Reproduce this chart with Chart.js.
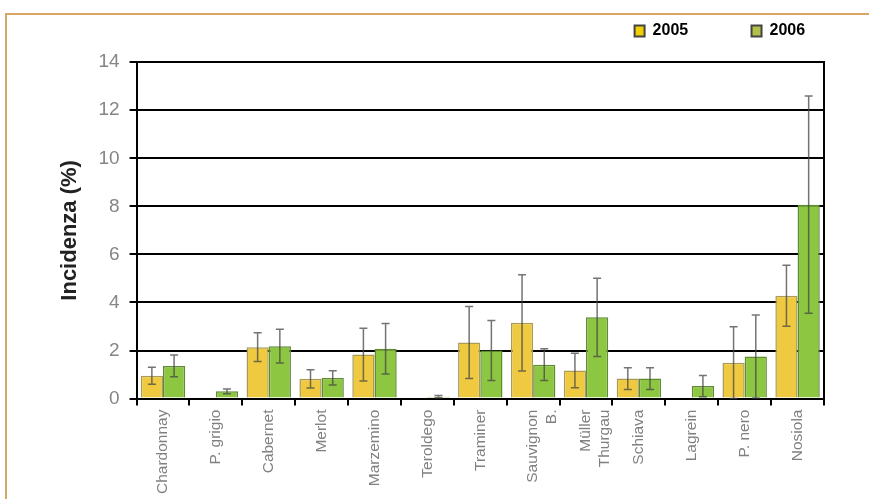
<!DOCTYPE html>
<html>
<head>
<meta charset="utf-8">
<script src="https://cdn.jsdelivr.net/npm/chart.js@4/dist/chart.umd.min.js"></script>
<style>
    html, body { margin: 0; padding: 0; background: #fff; }
    #wrap { position: relative; width: 869px; height: 499px; overflow: hidden; }
    #frame { position: absolute; left: 5px; top: 13px; width: 900px; height: 520px;
             border-left: 2px solid #d8a468; border-top: 2px solid #d8a468; }
    #chart { position: absolute; left: 0; top: 0; }
</style>
</head>
<body>
<div id="wrap">
    <div id="frame"></div>
    <canvas id="chart" width="869" height="499"></canvas>
</div>
<script>
// cultivar names on the x axis
const categories = ['Chardonnay', 'P. grigio', 'Cabernet', 'Merlot', 'Marzemino', 'Teroldego', 'Traminer',
    ['Sauvignon', 'B.'], ['Müller', 'Thurgau'], 'Schiava', 'Lagrein', 'P. nero', 'Nosiola'];

// incidence (%) and error (+/-) per year
const inc2005 = [0.95, 0.05, 2.14, 0.82, 1.83, 0, 2.33, 3.15, 1.17, 0.83, 0, 1.49, 4.28];
const err2005 = [0.35, 0, 0.6, 0.38, 1.1, 0, 1.5, 2.0, 0.72, 0.45, 0, 1.5, 1.27];
const inc2006 = [1.36, 0.3, 2.18, 0.86, 2.07, 0.08, 2.0, 1.41, 3.38, 0.83, 0.52, 1.75, 8.07];
const err2006 = [0.45, 0.1, 0.7, 0.3, 1.05, 0.05, 1.25, 0.66, 1.63, 0.45, 0.44, 1.73, 4.52];

const yTicks = [0, 2, 4, 6, 8, 10, 12, 14];

const COLORS = {
    y2005: '#efca40', y2005Border: '#a99a5a', leg2005: '#f2d000',
    y2006: '#8dc640', y2006Border: '#5f8c32', leg2006: '#b2bf48'
};

// draws the +/- error whiskers on top of each bar
const errorBars = {
    id: 'errorBars',
    afterDatasetsDraw(chart) {
        const ctx = chart.ctx;
        const y = chart.scales.y;
        chart.data.datasets.forEach((ds, i) => {
            const meta = chart.getDatasetMeta(i);
            meta.data.forEach((bar, j) => {
                const v = ds.data[j];
                const e = ds.errors[j];
                if (!e) return;
                const top = y.getPixelForValue(v + e);
                const bot = y.getPixelForValue(Math.max(v - e, 0));
                const cap = 4;
                ctx.save();
                ctx.strokeStyle = 'rgba(70,70,70,0.75)';
                ctx.lineWidth = 1.5;
                ctx.beginPath();
                ctx.moveTo(bar.x, top);
                ctx.lineTo(bar.x, bot);
                ctx.moveTo(bar.x - cap, top);
                ctx.lineTo(bar.x + cap, top);
                ctx.moveTo(bar.x - cap, bot);
                ctx.lineTo(bar.x + cap, bot);
                ctx.stroke();
                ctx.restore();
            });
        });
    }
};

const legendFill = [COLORS.leg2005, COLORS.leg2006];

new Chart(document.getElementById('chart'), {
    type: 'bar',
    data: {
        labels: categories,
        datasets: [
            {
                label: '2005',
                data: inc2005,
                errors: err2005,
                backgroundColor: COLORS.y2005,
                borderColor: COLORS.y2005Border,
                borderWidth: 1.5
            },
            {
                label: '2006',
                data: inc2006,
                errors: err2006,
                backgroundColor: COLORS.y2006,
                borderColor: COLORS.y2006Border,
                borderWidth: 1.5
            }
        ]
    },
    options: {
        responsive: false,
        animation: false,
        layout: { padding: { left: 57, right: 45, top: 13, bottom: 1 } },
        datasets: { bar: { categoryPercentage: 0.84, barPercentage: 1 } },
        plugins: {
            tooltip: { enabled: false },
            // empty spacer between legend and plot
            subtitle: {
                display: true,
                text: '',
                weight: 500,
                font: { size: 1 },
                padding: { top: 0, bottom: 12 }
            },
            legend: {
                position: 'top',
                align: 'end',
                labels: {
                    boxWidth: 10,
                    boxHeight: 11,
                    padding: 10,
                    color: '#111',
                    font: { family: 'Liberation Sans', size: 16, weight: 'bold' },
                    generateLabels(chart) {
                        return chart.data.datasets.map((ds, i) => ({
                            text: i === 0 ? ds.label + '            ' : ds.label + '  ',
                            fillStyle: legendFill[i],
                            strokeStyle: '#444',
                            lineWidth: 2,
                            datasetIndex: i
                        }));
                    }
                }
            }
        },
        scales: {
            x: {
                offset: true,
                grid: { drawOnChartArea: false, drawTicks: true, tickLength: 7, color: '#000', lineWidth: 2, offset: true },
                border: { color: '#000', width: 2 },
                ticks: {
                    maxRotation: 90, minRotation: 90, autoSkip: false, padding: 4,
                    color: '#808080',
                    font: { family: 'Liberation Sans', size: 15.5 }
                }
            },
            y: {
                min: 0,
                max: 14,
                afterBuildTicks(scale) { scale.ticks = yTicks.map(v => ({ value: v })); },
                grid: { color: '#000', lineWidth: 2, tickLength: 7 },
                border: { color: '#000', width: 2 },
                ticks: {
                    padding: 10,
                    color: '#858585',
                    font: { family: 'Liberation Sans', size: 19 }
                },
                title: {
                    display: true,
                    text: 'Incidenza (%)',
                    color: '#222',
                    padding: { top: 0, bottom: 5 },
                    font: { family: 'Liberation Sans', size: 22, weight: 'bold' }
                }
            },
            y2: {
                position: 'right',
                min: 0,
                max: 14,
                grid: { drawOnChartArea: false, drawTicks: false },
                border: { color: '#000', width: 2 },
                ticks: { display: false }
            }
        }
    },
    plugins: [errorBars]
});
</script>
</body>
</html>
